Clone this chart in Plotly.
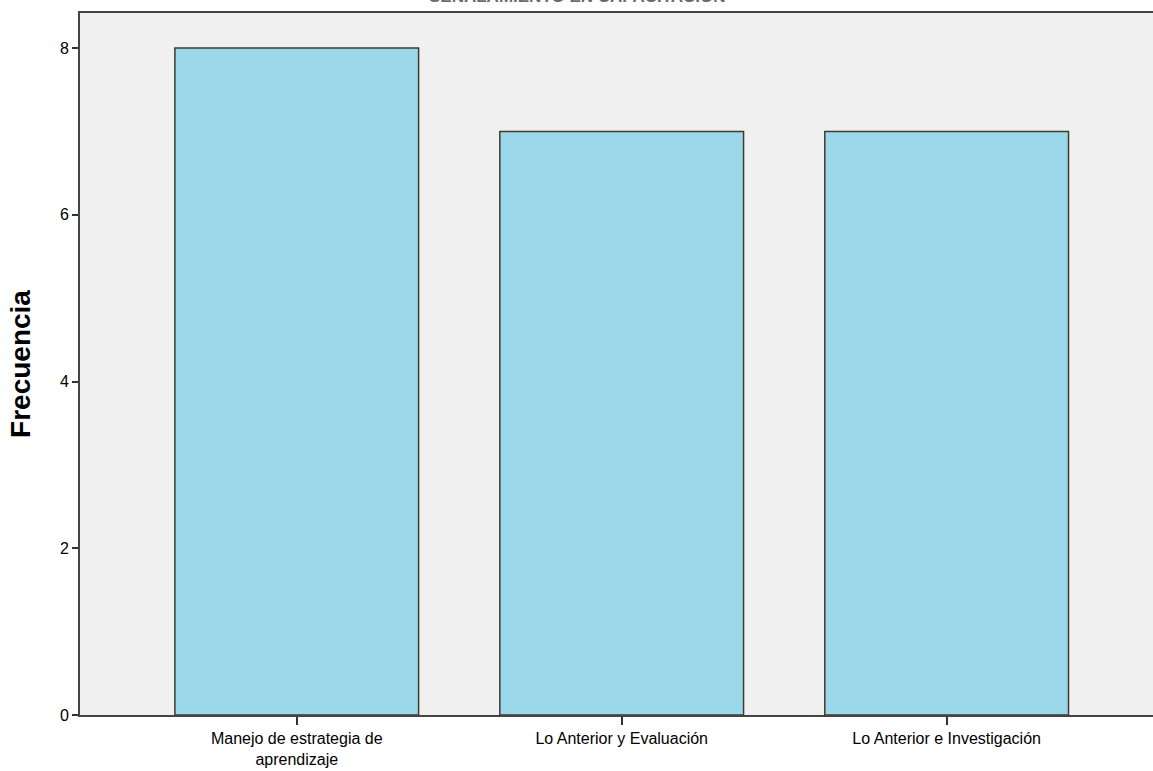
import plotly.graph_objects as go

categories = ["Manejo de estrategia de<br>aprendizaje", "Lo Anterior y Evaluación", "Lo Anterior e Investigación"]
frecuencia = [8, 7, 7]
y_ticks = [0, 2, 4, 6, 8]
title_text = "SEÑALAMIENTO EN CAPACITACIÓN"

fig = go.Figure()
fig.add_trace(go.Bar(
    x=[0, 1, 2],
    y=frecuencia,
    width=0.75,
    marker=dict(color="#9BD9EA", line=dict(color="#3F3B2C", width=1.5)),
    hoverinfo="y",
))

fig.update_layout(
    width=1153, height=771,
    margin=dict(l=80, r=0, t=13, b=56),
    paper_bgcolor="white",
    plot_bgcolor="#F0F0F0",
    font=dict(family="Liberation Sans, Arial, sans-serif", size=16, color="black"),
    showlegend=False,
    bargap=0.25,
)
fig.update_xaxes(
    range=[-0.667, 2.635],
    tickmode="array", tickvals=[0, 1, 2], ticktext=categories,
    ticks="outside", ticklen=8, tickwidth=1.5, tickcolor="#333",
    showline=True, linecolor="#444", linewidth=2, mirror=True,
    showgrid=False, zeroline=False,
    tickfont=dict(size=16),
)
fig.update_yaxes(
    range=[0, 8.42],
    tickmode="array", tickvals=y_ticks,
    ticks="outside", ticklen=6, tickwidth=1.5, tickcolor="#333",
    showline=True, linecolor="#444", linewidth=2,
    showgrid=False, zeroline=False,
    title=dict(text="<b>Frecuencia</b>", font=dict(size=28), standoff=21),
    tickfont=dict(size=16),
)
fig.add_annotation(
    text="<b>" + title_text + "</b>",
    xref="paper", yref="paper", x=0.464, y=1.0068,
    xanchor="center", yanchor="bottom", showarrow=False,
    font=dict(size=17, color="#6A6A6A"),
)
fig.write_html("out.html", config={"displayModeBar": False},
               post_script="document.body.style.margin='0';document.body.style.overflow='hidden';")
